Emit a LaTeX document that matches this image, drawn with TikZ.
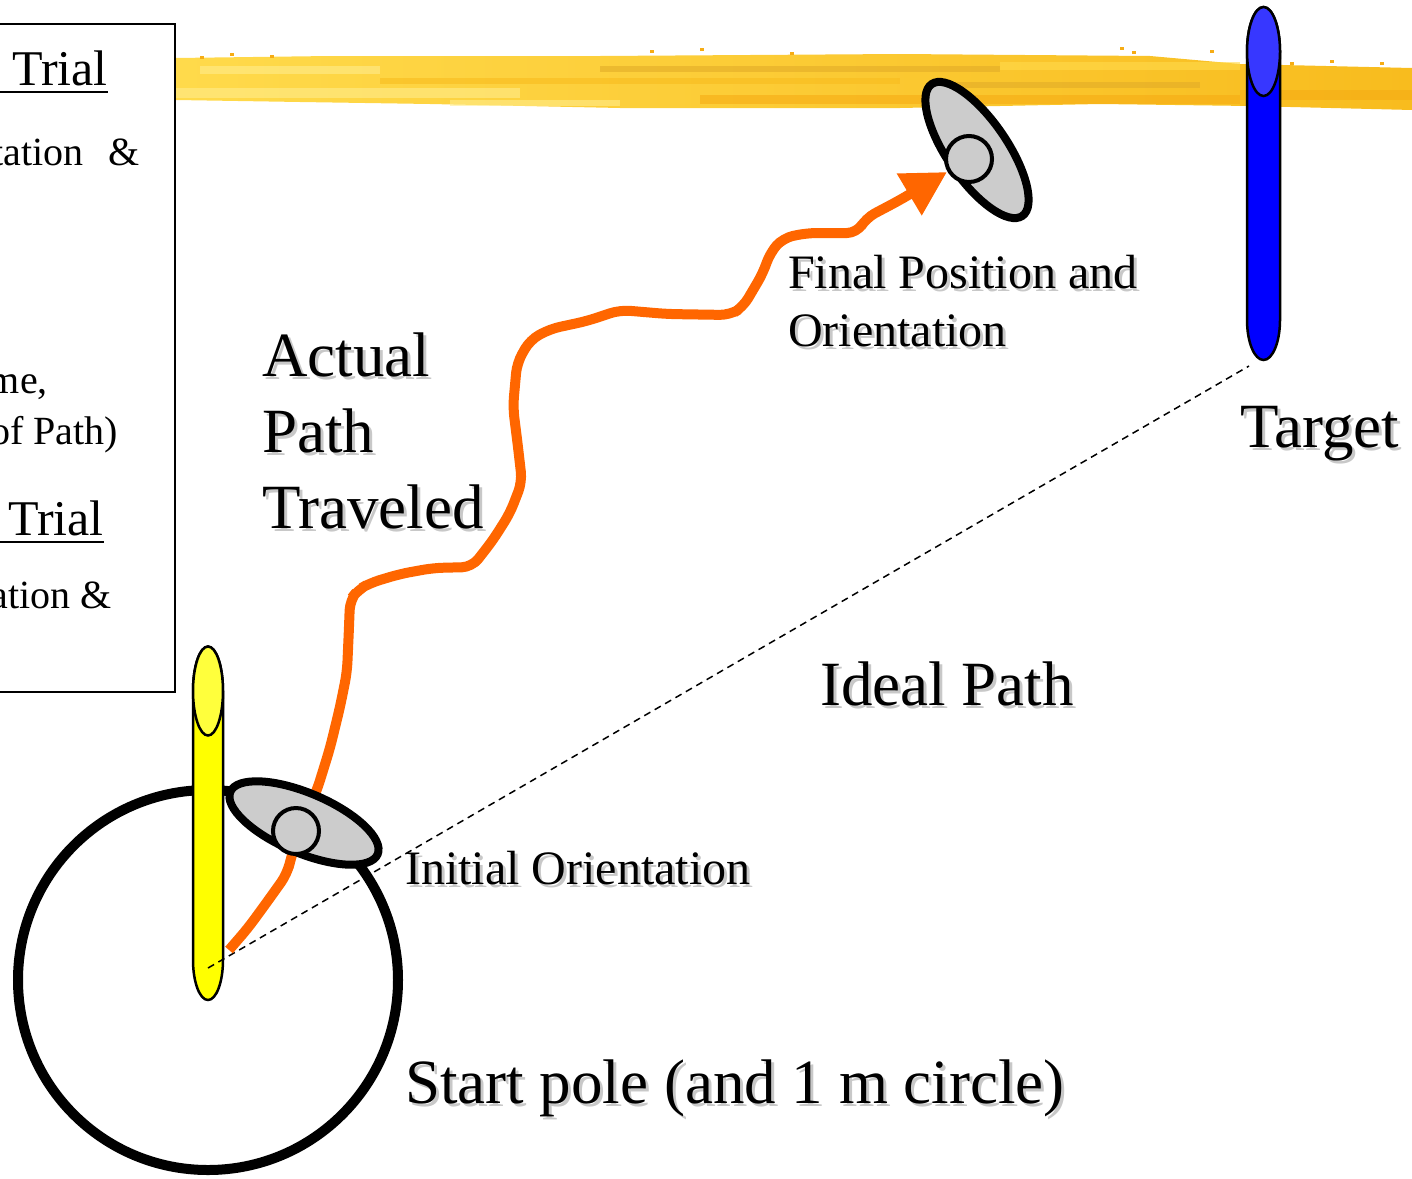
\documentclass[tikz,border=0pt]{standalone}
\usepackage{fontspec}
\setmainfont{Liberation Serif}
\usepackage{xcolor}
\usepackage{tikz}
\usetikzlibrary{arrows.meta}
\definecolor{poleyellow}{RGB}{255,255,0}
\definecolor{poletopyellow}{RGB}{255,255,60}
\definecolor{poleblue}{RGB}{0,0,255}
\definecolor{poletopblue}{RGB}{55,55,255}
\definecolor{pathorange}{RGB}{255,102,0}
\definecolor{discgray}{RGB}{204,204,204}
\definecolor{shadowgray}{RGB}{200,200,200}
\definecolor{bandpale}{RGB}{255,236,140}
\definecolor{bandlight}{RGB}{255,218,75}
\definecolor{bandgold}{RGB}{248,188,30}
\definecolor{bandorange}{RGB}{246,172,20}
\definecolor{banddark}{RGB}{226,172,40}
\tikzset{
  bigtext/.style={font=\fontsize{63}{76}\selectfont, inner sep=0pt},
  midtext/.style={font=\fontsize{48}{58}\selectfont, inner sep=0pt},
  boxtext/.style={font=\fontsize{40}{48}\selectfont, inner sep=0pt},
  trialtext/.style={font=\fontsize{50}{60}\selectfont, inner sep=0pt},
  boxline/.style={draw=black, line width=2pt},
  pole/.style={draw=black, line width=2.5pt},
  disc/.style={draw=black, fill=discgray, line width=8pt},
  discinner/.style={draw=black, fill=discgray, line width=4pt},
  idealline/.style={dash pattern=on 7pt off 5pt, line width=1.5pt},
  walkpath/.style={draw=pathorange, line width=10pt, rounded corners=10pt,
    -{Triangle[length=44pt, width=46pt]}}
}
\newcommand{\shad}[1]{\makebox[0pt][l]{\hspace{3pt}\raisebox{-3pt}{\textcolor{shadowgray}{#1}}}#1}

\begin{document}
\begin{tikzpicture}[x=1pt, y=-1pt]
  \useasboundingbox (0,0) rectangle (1412,1178);
  \clip (0,0) rectangle (1412,1178);

  % Highlighter band
  \shade[left color=bandlight, right color=bandgold] (176,58) -- (330,56) -- (600,56) -- (900,54)
    -- (1150,56) -- (1240,64) -- (1412,68) -- (1412,110) -- (1250,106) -- (1100,104) -- (900,108)
    -- (620,108) -- (430,104) -- (300,102) -- (176,100) -- cycle;
  \foreach \xa/\xb/\ya/\yb/\c in {176/520/88/98/bandpale, 600/1000/66/72/banddark,
      700/1240/95/104/bandorange, 380/900/78/84/bandgold, 1000/1240/62/70/bandlight,
      1240/1412/90/100/bandorange, 950/1200/82/88/banddark, 200/380/66/74/bandpale,
      450/620/100/106/bandpale}
    \fill[\c, opacity=0.6] (\xa,\ya) rectangle (\xb,\yb);
  \foreach \x/\y in {200/56, 230/53, 270/55, 650/50, 700/48, 790/52, 1120/47, 1132/51,
      1210/50, 1290/62, 1330/60, 1380/62}
    \fill[bandorange] (\x,\y) rectangle ++(4,3);

  % Trial box (cut at the left edge)
  \draw[boxline] (-5,24) rectangle (175,692);
  \node[trialtext, anchor=base east] (trialA) at (108,85) {Trial};
  \draw[line width=2.5pt] (0,92) -- (trialA.base east |- 0,92);
  \node[boxtext, anchor=base east] (recA) at (140,165) {tation\hspace{25pt}\&};
  \node[boxtext, anchor=base east] (timeA) at (48,393) {me,};
  \node[boxtext, anchor=base east] (lenA) at (118,444) {of Path)};
  \node[trialtext, anchor=base east] (trialB) at (104,535) {Trial};
  \draw[line width=2.5pt] (0,542) -- (trialB.base east |- 0,542);
  \node[boxtext, anchor=base east] (recB) at (112,608) {ation \&};

  % Start circle
  \draw[line width=10pt] (208,980) circle [radius=190pt];

  % Poles
  \foreach \cx/\rx/\ytop/\ybot/\body/\cap in {208/15/691/960/poleyellow/poletopyellow,
      1263.5/16.5/51.5/320/poleblue/poletopblue} {
    \filldraw[pole, fill=\body] (\cx-\rx,\ytop) -- (\cx-\rx,\ybot)
      arc[start angle=180, end angle=360, x radius=\rx pt, y radius=40pt]
      -- (\cx+\rx,\ytop) arc[start angle=0, end angle=180, x radius=\rx pt, y radius=44.5pt] -- cycle;
    \filldraw[pole, fill=\cap] (\cx,\ytop) ellipse [x radius=\rx pt, y radius=44.5pt];
  }

  % Ideal path
  \draw[idealline] (208,968) -- (1249,366);

  % Actual path
  \draw[walkpath] (229,950) -- (248,928) -- (267,902) -- (287,874) -- (291,858) -- (300,828)
    -- (317,790) -- (330,748) -- (340,707) -- (347,672) -- (349,627) -- (350,600) -- (358,590)
    -- (370,583) -- (400,574) -- (433,568) -- (472,567) -- (493,540) -- (510,513) -- (522,482)
    -- (518,447) -- (513,407) -- (517,363) -- (530,340) -- (550,329) -- (587,321) -- (620,310)
    -- (667,314) -- (730,315) -- (743,307) -- (763,273) -- (770,253) -- (783,238) -- (807,233)
    -- (857,233) -- (866,218) -- (883,209) -- (900,200) -- (947,172);

  % Orientation discs
  \foreach \cx/\cy/\ang/\ix/\iy in {304/823/-23/296/831, 977/150/-55.5/969/159} {
    \draw[disc, rotate around={\ang:(\cx,\cy)}] (\cx,\cy) ellipse [x radius=80pt, y radius=30pt];
    \draw[discinner] (\ix,\iy) circle [radius=23pt];
  }

  % Labels
  \node[bigtext, anchor=base west, align=left] (actual) at (262,528)
    {\shad{Actual}\\\shad{Path}\\\shad{Traveled}};
  \node[midtext, anchor=base west, align=left] (final) at (788,346)
    {\shad{Final Position and}\\\shad{Orientation}};
  \node[bigtext, anchor=base west] (target) at (1240,447) {\shad{Target}};
  \node[bigtext, anchor=base west] (ideal) at (820,705) {\shad{Ideal Path}};
  \node[midtext, anchor=base west] (initial) at (405,884) {\shad{Initial Orientation}};
  \node[bigtext, anchor=base west] (start) at (405,1103) {\shad{Start pole (and 1 m circle)}};
\end{tikzpicture}
\end{document}
